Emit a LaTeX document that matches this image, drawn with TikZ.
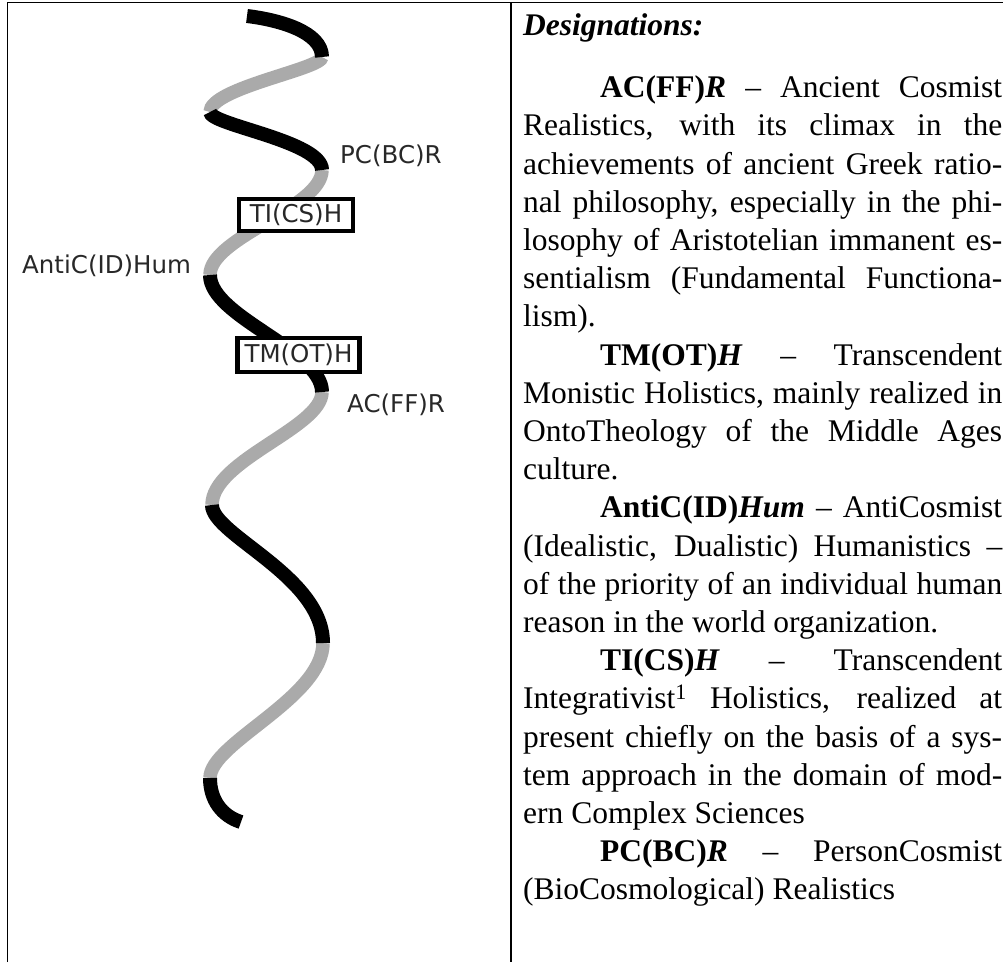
\documentclass[tikz,border=0pt]{standalone}
\usepackage{fontspec}
\setmainfont{Liberation Serif}
\newfontfamily\labelfont{DejaVu Sans}
\definecolor{helixgray}{RGB}{170,170,170}
\definecolor{labelink}{RGB}{40,40,40}
\begin{document}
\begin{tikzpicture}[x=1pt,y=-1pt,
  front/.style={line width=14pt, draw=black, line cap=butt},
  back/.style={line width=13.5pt, draw=helixgray, line cap=butt},
  lab/.style={font=\labelfont\fontsize{24.5}{29}\selectfont, text=labelink, inner sep=0pt},
  boxlab/.style={lab, draw=black, line width=4.5pt, fill=white, inner xsep=7pt, minimum height=32pt},
  rule/.style={line width=1.6pt, draw=black},
  bodytext/.style={anchor=base west, inner sep=0pt, font=\fontsize{31.5}{38.2}\selectfont}]
\useasboundingbox (0,0) rectangle (1003,962);
% table rules
\draw[rule] (7.5,962) -- (7.5,2.5) -- (1003,2.5);
\draw[rule] (511,2.5) -- (511,962);
% helix key points
\coordinate (s0) at (247,16);
\coordinate (r1) at (322,57);
\coordinate (l1) at (210,112);
\coordinate (r2) at (322,170);
\coordinate (l2) at (210,275);
\coordinate (r3) at (322,392);
\coordinate (l3) at (212,505);
\coordinate (r4) at (323,643);
\coordinate (l4) at (210,778);
\coordinate (e0) at (241,822);
% back (gray) parts
\draw[back] (r1) .. controls (322,69) and (210,88) .. (l1);
\draw[back] (r2) .. controls (322,208) and (210,237) .. (l2);
\draw[back] (r3) .. controls (322,428) and (212,460) .. (l3);
\draw[back] (r4) .. controls (323,698) and (210,743) .. (l4);
% front (black) parts
\draw[front] (s0) .. controls (280,20) and (322,32) .. (r1);
\draw[front] (l1) .. controls (210,125) and (322,141) .. (r2);
\draw[front] (l2) .. controls (210,317) and (322,350) .. (r3);
\draw[front] (l3) .. controls (212,535) and (323,576) .. (r4);
\draw[front] (l4) .. controls (210,800) and (222,816) .. (e0);
% boxed labels
\node[boxlab, minimum width=114pt] (ti) at (296,215) {TI(CS)H};
\node[boxlab, minimum width=119pt, minimum height=34pt] (tm) at (298.5,355) {TM(OT)H};
% free labels
\node[lab, anchor=base west] (pc) at (340,163) {PC(BC)R};
\node[lab, anchor=base west] (anti) at (22,273) {AntiC(ID)Hum};
\node[lab, anchor=base west] (ac) at (347,412) {AC(FF)R};
% right column
\node[bodytext, font=\bfseries\itshape\fontsize{31.5}{38.2}\selectfont] (desig) at (523,35.5) {Designations:};
\node[bodytext, text width=479pt, align=justify] (body) at (523,97.6) {%
\parindent=77pt \tolerance=10000 \pretolerance=-1 \hyphenpenalty=10000 \exhyphenpenalty=10000
\noindent\hspace*{77pt}\textbf{AC(FF)\textit{R}} – Ancient Cosmist\linebreak
Realistics, with its climax in the\linebreak
achievements of ancient Greek ratio-\linebreak
nal philosophy, especially in the phi-\linebreak
losophy of Aristotelian immanent es-\linebreak
sentialism (Fundamental Functiona-\linebreak
lism).\par
\textbf{TM(OT)\textit{H}} – Transcendent\linebreak
Monistic Holistics, mainly realized in\linebreak
OntoTheology of the Middle Ages\linebreak
culture.\par
\textbf{AntiC(ID)\textit{Hum}} – AntiCosmist\linebreak
(Idealistic, Dualistic) Humanistics –\linebreak
of the priority of an individual human\linebreak
reason in the world organization.\par
\textbf{TI(CS)\textit{H}} – Transcendent\linebreak
Integrativist\textsuperscript{1} Holistics, realized at\linebreak
present chiefly on the basis of a sys-\linebreak
tem approach in the domain of mod-\linebreak
ern Complex Sciences\par
\textbf{PC(BC)\textit{R}} – PersonCosmist\linebreak
(BioCosmological) Realistics\par}; 
\end{tikzpicture}
\end{document}
